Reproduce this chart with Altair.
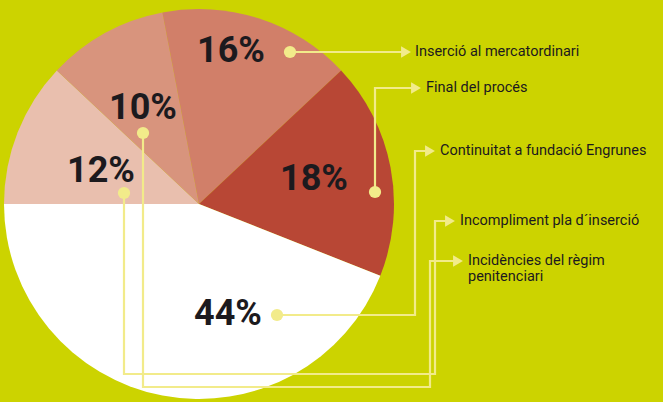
import math
import altair as alt
import pandas as pd

# ---------------- data ----------------
categories = [
    "Incompliment pla d´inserció",
    "Incidències del règim\npenitenciari",
    "Inserció al mercatordinari",
    "Final del procés",
    "Continuitat a fundació Engrunes",
]
values = [12, 10, 16, 18, 44]
labels = ["12%", "10%", "16%", "18%", "44%"]

# ---------------- style / layout ----------------
slice_colors = ["#e9bfae", "#d8947d", "#d17f69", "#b84735", "#ffffff"]
BG = "#ccd300"
LINE = "#f2eb8a"
TXT = "#1c1a1e"
W, H = 663, 402
CX, CY, R = 199, 204, 195
FONT = "Roboto, 'Liberation Sans', sans-serif"

# label centre, dot, elbow path, arrow tip, legend text anchor (pixel layout)
label_pos = [(101, 171), (143, 108), (231, 51), (314, 179), (228, 314)]
dot_pos = [(124, 193), (143, 133), (290, 52), (375, 192), (277, 315)]
elbows = [
    [(124, 374), (435, 374), (435, 221)],
    [(143, 387), (430, 387), (430, 261)],
    [],
    [(375, 88)],
    [(415, 315), (415, 151)],
]
tips = [(457, 221), (465, 261), (413, 52), (423, 88), (437, 151)]
text_off = [3, 3, 2, 3, 3]

pie_df = pd.DataFrame({
    "category": categories,
    "value": values,
    "idx": list(range(len(values))),
})

lab_df = pd.DataFrame({
    "label": labels,
    "x": [p[0] for p in label_pos],
    "y": [p[1] for p in label_pos],
})

dot_df = pd.DataFrame({
    "x": [p[0] for p in dot_pos],
    "y": [p[1] for p in dot_pos],
})

rows = []
for i in range(len(values)):
    pts = [dot_pos[i]] + elbows[i] + [(tips[i][0] - 6, tips[i][1])]
    for k, (px, py) in enumerate(pts):
        rows.append({"path": i, "k": k, "x": px, "y": py})
path_df = pd.DataFrame(rows)

arrow_df = pd.DataFrame({
    "x": [t[0] - 7 for t in tips],
    "y": [t[1] for t in tips],
})

leg_df = pd.DataFrame({
    "text": categories,
    "x": [tips[i][0] + text_off[i] for i in range(len(tips))],
    "y": [t[1] for t in tips],
})

xs = alt.Scale(domain=[0, W], nice=False, zero=False)
ys = alt.Scale(domain=[0, H], nice=False, zero=False, reverse=True)
X = lambda: alt.X("x:Q", scale=xs, axis=None)
Y = lambda: alt.Y("y:Q", scale=ys, axis=None)

pie = alt.Chart(pie_df).mark_arc(radius=R, strokeWidth=0).encode(
    theta=alt.Theta("value:Q", stack=True,
                    scale=alt.Scale(range=[1.5 * math.pi, 3.5 * math.pi])),
    color=alt.Color("category:N",
                    scale=alt.Scale(domain=categories, range=slice_colors),
                    legend=None),
    order=alt.Order("idx:Q"),
    x=alt.value(CX),
    y=alt.value(CY),
)

lines = alt.Chart(path_df).mark_line(color=LINE, strokeWidth=2.2,
                                     strokeJoin="miter").encode(
    x=X(), y=Y(), detail="path:N", order="k:Q"
)

dots = alt.Chart(dot_df).mark_circle(color=LINE, opacity=1, size=150).encode(
    x=X(), y=Y()
)

arrows = alt.Chart(arrow_df).mark_point(shape="triangle-right", filled=True,
                                        color=LINE, opacity=1, size=130).encode(
    x=X(), y=Y()
)

pct = alt.Chart(lab_df).mark_text(
    font=FONT, fontWeight="bold", fontSize=36,
    color=TXT, align="center", baseline="middle"
).encode(x=X(), y=Y(), text="label:N")

legend_txt = alt.Chart(leg_df).mark_text(
    font=FONT, fontSize=14.5, color=TXT,
    align="left", baseline="middle", lineBreak="\n", lineHeight=16
).encode(x=X(), y=Y(), text="text:N")

chart = alt.layer(pie, lines, dots, arrows, pct, legend_txt).properties(
    width=W, height=H, padding=0, background=BG,
    autosize=alt.AutoSizeParams(type="none")
).configure_view(strokeWidth=0)

chart.save("out.html", embed_options={"renderer": "svg", "actions": False})
